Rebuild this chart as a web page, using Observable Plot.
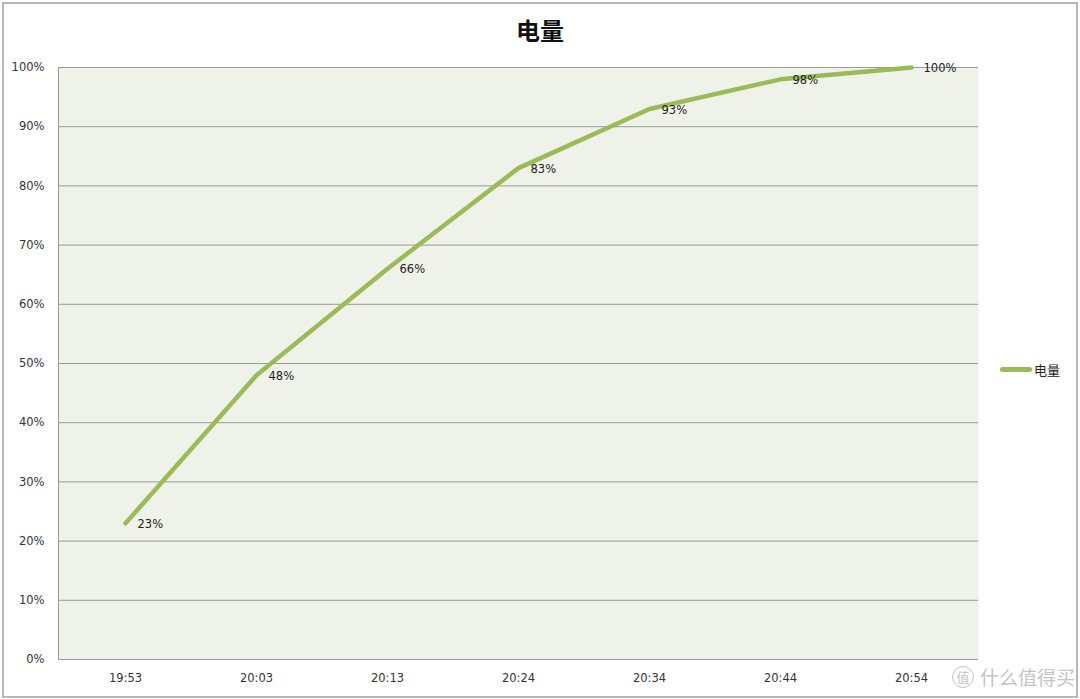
<!DOCTYPE html>
<html>
<head>
<meta charset="utf-8">
<script src="https://cdn.jsdelivr.net/npm/d3@7"></script>
<script src="https://cdn.jsdelivr.net/npm/@observablehq/plot@0.6"></script>
<style>
  html, body { margin: 0; padding: 0; background: #fff; }
  #wrap { position: relative; width: 1080px; height: 699px; overflow: hidden; }
  #border { position: absolute; left: 2px; top: 2px; width: 1072px; height: 692px; border: 2px solid #b8b8b8; box-sizing: content-box; pointer-events: none; }
  #title { position: absolute; left: 0; width: 1080px; top: 12px; text-align: center; font-family: "Noto Sans CJK SC", sans-serif; font-weight: bold; font-size: 24px; color: #111; }
  #legend { position: absolute; left: 1000px; top: 360px; font-family: "Noto Sans CJK SC", sans-serif; font-size: 13px; color: #222; display: flex; align-items: center; }
  #legend .sw { width: 32px; height: 5px; border-radius: 3px; background: #9bbb59; margin-right: 2px; }
  #wm { position: absolute; left: 952px; top: 665px; height: 24px; line-height: 22px; font-family: "Noto Sans CJK SC", sans-serif; font-size: 19px; color: #c4c4c4; display: flex; align-items: center; }
  #wm .c { width: 20px; height: 20px; line-height: 20px; border: 1.5px solid #c4c4c4; border-radius: 50%; font-size: 13px; display: flex; align-items: center; justify-content: center; margin-right: 6px; }
  svg { position: absolute; left: 0; top: 0; }
</style>
</head>
<body>
<div id="wrap">
  <div id="chart"></div>
  <div id="title">电量</div>
  <div id="legend"><span class="sw"></span><span>电量</span></div>
  <div id="wm"><span class="c">值</span><span>什么值得买</span></div>
  <div id="border"></div>
</div>
<script>
const times = ["19:53", "20:03", "20:13", "20:24", "20:34", "20:44", "20:54"];
const charge = [23, 48, 66, 83, 93, 98, 100];
const yTicks = [0, 10, 20, 30, 40, 50, 60, 70, 80, 90, 100];

const data = times.map((t, i) => ({time: t, value: charge[i]}));

const chart = Plot.plot({
  width: 1080,
  height: 699,
  marginLeft: 58,
  marginRight: 102,
  marginTop: 67,
  marginBottom: 40,
  style: {fontFamily: "DejaVu Sans, sans-serif", fontSize: "11.5px", color: "#333", background: "transparent"},
  x: {type: "point", domain: times, padding: 0.5, label: null},
  y: {domain: [0, 100], label: null},
  marks: [
    Plot.frame({fill: "#eef2e9", stroke: null}),
    Plot.gridY(yTicks, {stroke: "#9a9a9a", strokeOpacity: 1, strokeWidth: 1}),
    Plot.frame({anchor: "left", stroke: "#9a9a9a"}),
    Plot.axisY(yTicks, {tickSize: 0, tickPadding: 14, tickFormat: d => d + "%", fill: "#333"}),
    Plot.axisX({tickSize: 0, tickPadding: 14, fill: "#333"}),
    Plot.line(data, {x: "time", y: "value", stroke: "#9bbb59", strokeWidth: 4.5, strokeLinecap: "round"}),
    Plot.text(data, {x: "time", y: "value", text: d => d.value + "%", dx: 12, dy: 1, textAnchor: "start", fill: "#222", fontSize: 11.5})
  ]
});
document.getElementById("chart").appendChild(chart);
</script>
</body>
</html>
